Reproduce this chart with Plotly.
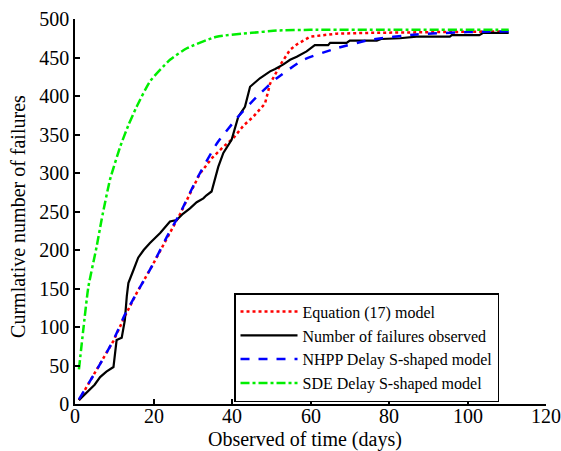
import plotly.graph_objects as go

# Observed cumulative failures (black)
t_obs = [1, 2, 3.8, 5, 6.4, 8, 9.8, 10.3, 10.6, 11.9, 12.5, 12.7, 13.2, 13.6, 14.9, 16.1, 17.5, 19.1,
         21.7, 24.2, 25.9, 27.5, 29.3, 31, 32.7, 33.5, 34.8, 35.5, 36.5, 37.8, 39.9, 41.6, 43.3, 44.6,
         46, 47.1, 49.7, 51, 53.1, 54.8, 56.5, 59, 61.1, 64.5, 65, 69.2, 70, 76.9, 78, 82.8, 87, 95.5,
         96, 103, 104, 110.5]
y_obs = [5, 10, 18, 25, 35, 42, 48, 70, 83, 86, 100, 109, 140, 157, 174, 190, 200, 209,
         222, 237, 239, 247, 254, 262, 267, 271, 276, 290, 308, 326, 343, 373, 386, 412,
         418, 423, 432, 435, 441, 447, 451, 458, 466, 466, 469, 469, 472, 472, 474, 475, 477, 477,
         479, 479, 482, 482]

# SDE Delay S-shaped model (green)
t_sde = [1, 2.1, 3.4, 5.5, 6.8, 8.9, 11.5, 13.6, 15.7, 19.1, 24.2, 28.5, 36.1, 45, 51.4, 60, 80, 100, 110.5]
y_sde = [45, 96, 152, 204, 240, 291, 334, 362, 386, 419, 447, 462, 477, 482, 485, 486, 486, 486, 486]

# NHPP Delay S-shaped model (blue)
t_nhpp = [1, 5.5, 9.8, 12.7, 15.7, 19.5, 23.4, 26.8, 31, 36.1, 41.2, 46.3, 51.4, 58.2, 66.7, 75.2, 87, 100, 110.5]
y_nhpp = [6, 44, 83, 116, 144, 178, 217, 248, 292, 338, 371, 399, 423, 447, 462, 473, 480, 483, 484]

# Equation (17) model (red)
t_eq = [1, 5.5, 9.8, 12.7, 15.7, 19.5, 23.4, 26.8, 29, 31.8, 35, 37.8, 40.3, 43, 45.4, 48.4, 49.7,
        51.4, 52.5, 54.8, 56.5, 59.9, 66.7, 75, 90, 110.5]
y_eq = [5, 44, 82, 114, 144, 178, 215, 247, 270, 299, 320, 334, 345, 362, 373, 390, 416,
        432, 442, 460, 467, 477, 481, 482, 483, 484]

x_ticks = [0, 20, 40, 60, 80, 100, 120]
y_ticks = [0, 50, 100, 150, 200, 250, 300, 350, 400, 450, 500]

FONT = "Liberation Serif, Times New Roman, serif"

fig = go.Figure()
fig.add_trace(go.Scatter(x=t_eq, y=y_eq, mode="lines", name="Equation (17) model",
                         line=dict(color="#ff0000", width=2.5, dash="dot"), legendgroup="a"))
fig.add_trace(go.Scatter(x=t_obs, y=y_obs, mode="lines", name="Number of failures observed",
                         line=dict(color="#000000", width=2.2), legendgroup="b"))
fig.add_trace(go.Scatter(x=t_nhpp, y=y_nhpp, mode="lines", name="NHPP Delay S-shaped model",
                         line=dict(color="#0000ff", width=2.5, dash="dash", shape="spline", smoothing=0.5),
                         legendgroup="c"))
fig.add_trace(go.Scatter(x=t_sde, y=y_sde, mode="lines", name="SDE Delay S-shaped model",
                         line=dict(color="#00ee00", width=2.5, dash="dashdot", shape="spline", smoothing=0.5),
                         legendgroup="d"))

axis_common = dict(showline=True, linecolor="black", linewidth=1.5, ticks="inside", ticklen=5,
                   tickcolor="black", tickwidth=1.5, showgrid=False, zeroline=False, automargin=False,
                   tickfont=dict(family=FONT, size=20, color="black"), mirror=False)

annotations = [
    dict(text="Observed of time (days)", xref="paper", yref="paper", x=0.488, y=-0.093,
         xanchor="center", yanchor="middle", showarrow=False,
         font=dict(family=FONT, size=20, color="black")),
    dict(text="Curmlative number of failures", xref="paper", yref="paper", x=-0.121, y=0.486,
         xanchor="center", yanchor="middle", showarrow=False, textangle=-90,
         font=dict(family=FONT, size=20, color="black")),
]
# x tick labels placed at the axis tick values
for v in x_ticks:
    annotations.append(dict(text=str(v), xref="x", yref="paper", x=v, y=-0.032,
                            xanchor="center", yanchor="middle", showarrow=False,
                            font=dict(family=FONT, size=20, color="black")))

fig.update_layout(
    width=561, height=451,
    margin=dict(l=75, r=15, t=19, b=47),
    plot_bgcolor="white", paper_bgcolor="white",
    font=dict(family=FONT, color="black"),
    xaxis=dict(range=[0, 120], tickvals=x_ticks, showticklabels=False, **axis_common),
    yaxis=dict(range=[0, 500], tickvals=y_ticks, ticktext=[str(v) for v in y_ticks], **axis_common),
    legend=dict(x=0.3376, y=0.288, xanchor="left", yanchor="top", bgcolor="white",
                bordercolor="black", borderwidth=1.5, font=dict(family=FONT, size=16),
                itemwidth=57, tracegroupgap=0),
    showlegend=True,
    annotations=annotations,
)

fig.write_html("out.html", config={"displayModeBar": False},
               post_script="document.body.style.margin='0px';document.body.style.overflow='hidden';")
